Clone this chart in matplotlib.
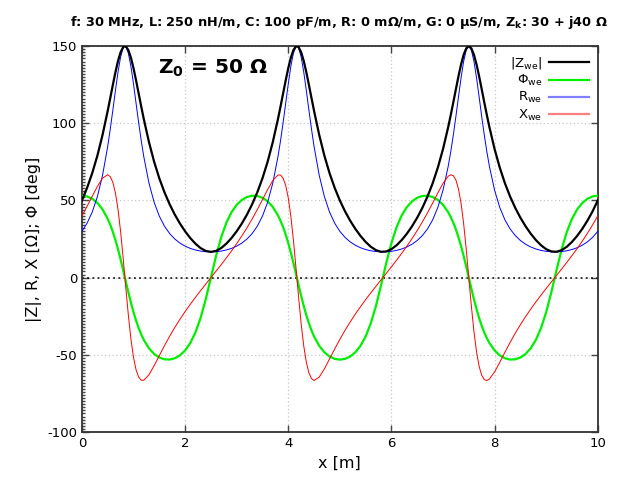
import matplotlib
matplotlib.use("Agg")
import matplotlib.pyplot as plt
from matplotlib.ticker import MultipleLocator

plt.rcParams["axes.unicode_minus"] = False

x_m = [0.0, 0.1, 0.2, 0.3, 0.4, 0.5, 0.55, 0.6, 0.65, 0.7, 0.75, 0.8, 0.8333, 0.85, 0.9, 0.95,
       1.0, 1.05, 1.1, 1.15, 1.2, 1.3, 1.4, 1.5, 1.6, 1.7, 1.8, 1.9,
       2.0, 2.1, 2.2, 2.3, 2.4, 2.5, 2.6, 2.7, 2.8, 2.9,
       3.0, 3.1, 3.2, 3.3, 3.4, 3.5, 3.6, 3.7, 3.8, 3.85, 3.9, 3.95,
       4.0, 4.05, 4.1, 4.15, 4.1667, 4.2, 4.25, 4.3, 4.35, 4.4, 4.45, 4.5, 4.6, 4.7, 4.8, 4.9,
       5.0, 5.1, 5.2, 5.3, 5.4, 5.5, 5.6, 5.7, 5.8, 5.9,
       6.0, 6.1, 6.2, 6.3, 6.4, 6.5, 6.6, 6.7, 6.8, 6.9,
       7.0, 7.1, 7.15, 7.2, 7.25, 7.3, 7.35, 7.4, 7.45, 7.5, 7.55, 7.6, 7.65, 7.7, 7.75, 7.8, 7.85, 7.9,
       8.0, 8.1, 8.2, 8.3, 8.4, 8.5, 8.6, 8.7, 8.8, 8.9,
       9.0, 9.1, 9.2, 9.3, 9.4, 9.5, 9.6, 9.7, 9.8, 9.9, 10.0]

z_mag = [50.00, 58.15, 67.73, 79.06, 92.48, 108.05, 116.43, 124.93, 133.11, 140.39, 146.04, 149.35, 150.0, 149.83, 147.43, 142.49,
         135.67, 127.72, 119.27, 110.81, 102.64, 87.77, 75.06, 64.36, 55.29, 47.55, 40.86, 35.07,
         30.01, 25.66, 22.01, 19.16, 17.32, 16.67, 17.32, 19.16, 22.01, 25.66,
         30.01, 35.07, 40.86, 47.55, 55.29, 64.36, 75.06, 87.77, 102.64, 110.81, 119.27, 127.72,
         135.67, 142.49, 147.43, 149.83, 150.0, 149.35, 146.04, 140.39, 133.11, 124.93, 116.43, 108.05, 92.48, 79.06, 67.73, 58.15,
         50.00, 42.99, 36.91, 31.62, 27.03, 23.13, 20.01, 17.80, 16.74, 16.96,
         18.43, 20.97, 24.36, 28.49, 33.30, 38.84, 45.22, 52.58, 61.17, 71.30,
         83.29, 97.44, 105.31, 113.60, 122.11, 130.46, 138.11, 144.38, 148.54, 150.0, 148.54, 144.38, 138.11, 130.46, 122.11, 113.60, 105.31, 97.44,
         83.29, 71.30, 61.17, 52.58, 45.22, 38.84, 33.30, 28.49, 24.36, 20.97,
         18.43, 16.96, 16.74, 17.80, 20.01, 23.13, 27.03, 31.62, 36.91, 42.99, 50.00]

phi = [53.13, 52.63, 51.10, 48.38, 44.19, 38.09, 34.17, 29.58, 24.31, 18.35, 11.78, 4.79, 0.0, -2.40, -9.49, -16.22,
       -22.39, -27.90, -32.71, -36.85, -40.36, -45.77, -49.44, -51.74, -52.91, -53.07, -52.25, -50.35,
       -47.17, -42.39, -35.55, -26.14, -14.03, 0.0, 14.03, 26.14, 35.55, 42.39,
       47.17, 50.35, 52.25, 53.07, 52.91, 51.74, 49.44, 45.77, 40.36, 36.85, 32.71, 27.90,
       22.39, 16.22, 9.49, 2.40, 0.0, -4.79, -11.78, -18.35, -24.31, -29.58, -34.17, -38.09, -44.19, -48.38, -51.10, -52.63,
       -53.13, -52.63, -51.10, -48.38, -44.19, -38.09, -29.58, -18.35, -4.79, 9.49,
       22.39, 32.71, 40.36, 45.77, 49.44, 51.74, 52.91, 53.07, 52.25, 50.35,
       47.17, 42.39, 39.26, 35.55, 31.19, 26.14, 20.40, 14.03, 7.15, 0.0, -7.15, -14.03, -20.40, -26.14, -31.19, -35.55, -39.26, -42.39,
       -47.17, -50.35, -52.25, -53.07, -52.91, -51.74, -49.44, -45.77, -40.36, -32.71,
       -22.39, -9.49, 4.79, 18.35, 29.58, 38.09, 44.19, 48.38, 51.10, 52.63, 53.13]

r_we = [30.00, 35.29, 42.52, 52.51, 66.32, 85.04, 96.34, 108.64, 121.31, 133.25, 142.96, 148.83, 150.0, 149.70, 145.41, 136.82,
        125.44, 112.87, 100.35, 88.67, 78.21, 61.22, 48.81, 39.85, 33.34, 28.57, 25.02, 22.38,
        20.40, 18.95, 17.91, 17.20, 16.80, 16.67, 16.80, 17.20, 17.91, 18.95,
        20.40, 22.38, 25.02, 28.57, 33.34, 39.85, 48.81, 61.22, 78.21, 88.67, 100.35, 112.87,
        125.44, 136.82, 145.41, 149.70, 150.0, 148.83, 142.96, 133.25, 121.31, 108.64, 96.34, 85.04, 66.32, 52.51, 42.52, 35.29,
        30.00, 26.09, 23.17, 21.00, 19.38, 18.21, 17.40, 16.90, 16.68, 16.73,
        17.04, 17.64, 18.56, 19.87, 21.65, 24.05, 27.27, 31.59, 37.45, 45.50,
        56.63, 71.97, 81.55, 92.44, 104.46, 117.11, 129.44, 140.08, 147.38, 150.0, 147.38, 140.08, 129.44, 117.11, 104.46, 92.44, 81.55, 71.97,
        56.63, 45.50, 37.45, 31.59, 27.27, 24.05, 21.65, 19.87, 18.56, 17.64,
        17.04, 16.73, 16.68, 16.90, 17.40, 18.21, 19.38, 21.00, 23.17, 26.09, 30.00]

x_we = [40.00, 46.22, 52.72, 59.11, 64.46, 66.65, 65.39, 61.68, 54.79, 44.18, 29.82, 12.46, 0.0, -6.27, -24.30, -39.80,
        -51.69, -59.77, -64.46, -66.45, -66.47, -62.89, -57.03, -50.54, -44.11, -38.01, -32.31, -27.00,
        -22.01, -17.30, -12.79, -8.44, -4.20, 0.0, 4.20, 8.44, 12.79, 17.30,
        22.01, 27.00, 32.31, 38.01, 44.11, 50.54, 57.03, 62.89, 66.47, 66.45, 64.46, 59.77,
        51.69, 39.80, 24.30, 6.27, 0.0, -12.46, -29.82, -44.18, -54.79, -61.68, -65.39, -66.65, -64.46, -59.11, -52.72, -46.22,
        -40.00, -34.17, -28.73, -23.64, -18.84, -14.27, -9.88, -5.60, -1.40, 2.79,
        7.02, 11.33, 15.77, 20.41, 25.30, 30.50, 36.07, 42.03, 48.37, 54.89,
        61.08, 65.69, 66.64, 66.04, 63.23, 57.48, 48.15, 35.00, 18.49, 0.0, -18.49, -35.00, -48.15, -57.48, -63.23, -66.04, -66.64, -65.69,
        -61.08, -54.89, -48.37, -42.03, -36.07, -30.50, -25.30, -20.41, -15.77, -11.33,
        -7.02, -2.79, 1.40, 5.60, 9.88, 14.27, 18.84, 23.64, 28.73, 34.17, 40.00]

title_text = "f: 30 MHz, L: 250 nH/m, C: 100 pF/m, R: 0 mΩ/m, G: 0 µS/m, Z$_\\mathbf{k}$: 30 + j40 Ω"
x_ticks = [0, 2, 4, 6, 8, 10]
y_ticks = [-100, -50, 0, 50, 100, 150]

fig = plt.figure(figsize=(6.4, 4.8), dpi=100)
ax = fig.add_axes([0.128, 0.1, 0.806, 0.804])

ax.plot(x_m, z_mag, color="black", lw=1.6, label=r"$|\mathrm{Z_{we}}|$", zorder=4)
ax.plot(x_m, phi, color="#00ee00", lw=1.6, label=r"$\mathrm{\Phi_{we}}$", zorder=3)
ax.plot(x_m, r_we, color="#0000ff", lw=0.7, label=r"$\mathrm{R_{we}}$", zorder=3)
ax.plot(x_m, x_we, color="#ff0000", lw=0.7, label=r"$\mathrm{X_{we}}$", zorder=3)
ax.axhline(0, color="black", lw=1.1, ls=(0, (1.2, 2.2)), zorder=2)

ax.set_xlim(0, 10)
ax.set_ylim(-100, 150)
ax.set_xticks(x_ticks)
ax.set_yticks(y_ticks)
ax.yaxis.set_minor_locator(MultipleLocator(2))
ax.tick_params(which="major", direction="in", length=5, width=1, top=True, right=True,
               labelsize=9.5, colors="#444444", labelcolor="black")
ax.tick_params(which="minor", direction="in", length=2, width=1, left=True, right=False,
               colors="#444444")
ax.grid(True, which="major", color="#c8c8c8", ls=(0, (1, 2)), lw=0.9)
for s in ax.spines.values():
    s.set_color("#333333")
    s.set_linewidth(1.3)

ax.set_xlabel("x [m]", fontsize=11.5, labelpad=4)
ax.set_ylabel("|Z|, R, X [Ω]; Φ [deg]", fontsize=11.5, labelpad=4)

fig.text(0.53, 0.953, title_text, ha="center", va="center", fontsize=9.3, fontweight="bold")
ax.text(1.48, 135.8, r"Z$_\mathbf{0}$ = 50 Ω", fontsize=14.5, fontweight="bold", va="center", ha="left")

leg = ax.legend(loc="upper right", frameon=False, markerfirst=False, fontsize=9.5,
                handlelength=3.0, borderaxespad=0.3, labelspacing=0.15, handletextpad=0.5)
leg_colors = ["black", "#00ee00", "#8080ff", "#ff8080"]
for h, c in zip(leg.get_lines(), leg_colors):
    h.set_linewidth(1.6)
    h.set_color(c)

fig.savefig("out.png", dpi=100)
